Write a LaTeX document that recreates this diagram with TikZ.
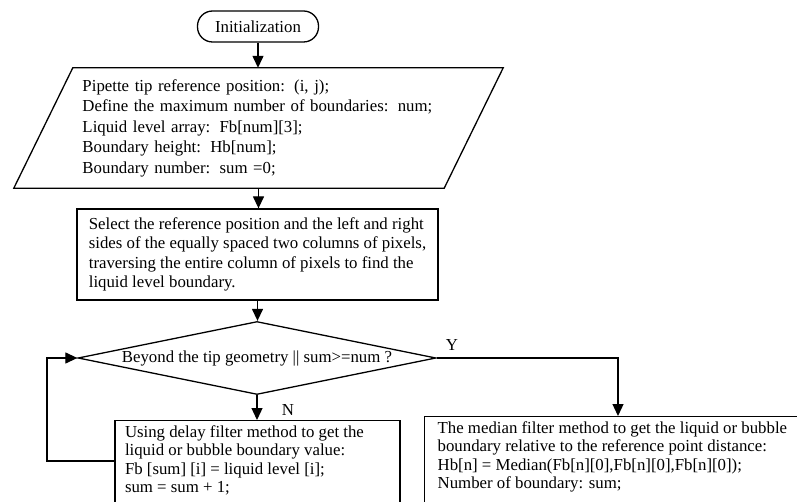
\documentclass[tikz,border=0pt]{standalone}
\usepackage{fontspec}
\setmainfont{Liberation Serif}
\usetikzlibrary{shapes.geometric,arrows.meta,calc}
\newcommand{\fcol}{:\hspace{0.55em}}
\begin{document}
\begin{tikzpicture}[x=1bp,y=1bp,
  every node/.style={font=\fontsize{16.8bp}{19.5bp}\selectfont, text=black},
  shp/.style={draw=black, line width=1.3bp},
  ln/.style={line width=1.3bp, draw=black},
  arr/.style={ln, -{Triangle[length=12bp,width=11bp]}}]
\clip (0,0) rectangle (797,-502);
\fill[white] (0,0) rectangle (797,-502);
% terminal
\node[shp, rounded corners=15bp, minimum width=121bp, minimum height=31bp, inner sep=0pt] (init) at (258,-26.5) {Initialization};
% input parallelogram
\node[minimum width=430bp, minimum height=120bp, inner sep=0pt, align=left, text width=352bp,
      font=\fontsize{16.8bp}{20.5bp}\selectfont] (param) at (258.5,-128)
  {Pipette tip reference position\fcol(i, j);\\
   Define the maximum number of boundaries\fcol num;\\
   Liquid level array\fcol Fb[num][3];\\
   Boundary height\fcol Hb[num];\\
   Boundary number\fcol sum =0;};
\draw[ln] ($(param.north west)+(29.5,0)$) -- ($(param.north east)+(29.5,0)$)
  -- ($(param.south east)+(-29.5,0)$) -- ($(param.south west)+(-29.5,0)$) -- cycle;
% process box
\node[shp, minimum width=361bp, minimum height=91bp, inner sep=0pt, align=left,
      font=\fontsize{16.8bp}{19.3bp}\selectfont] (sel) at (257.5,-254.5)
  {Select the reference position and the left and right\\
   sides of the equally spaced two columns of pixels,\\
   traversing the entire column of pixels to find the\\
   liquid level boundary.};
% decision
\node[shp, diamond, aspect=4.9, minimum width=358bp, minimum height=73bp, inner sep=0pt,
      text height=11bp, text depth=3bp] (dec) at (257,-358)
  {Beyond the tip geometry || sum>=num ?};
% loop box
\node[shp, anchor=north, minimum width=285bp, inner xsep=10bp, inner ysep=5bp] (loopbox) at (257.5,-420)
  {\parbox[t][85bp][t]{265bp}{\raggedright\fontsize{16.8bp}{18.3bp}\selectfont
   Using delay filter method to get the\\
   liquid or bubble boundary value:\\
   Fb [sum] [i] = liquid level [i];\\
   sum = sum + 1;}};
% median box
\node[shp, anchor=north west, minimum width=426bp, inner xsep=13bp, inner ysep=5bp] (medbox) at (424,-416)
  {\parbox[t][85bp][t]{400bp}{\raggedright\fontsize{16.8bp}{18.3bp}\selectfont
   The median filter method to get the liquid or bubble\\
   boundary relative to the reference point distance:\\
   Hb[n] = Median(Fb[n][0],Fb[n][0],Fb[n][0]);\\
   Number of boundary: sum;}};
% labels
\node (ylab) at (452,-345) {Y};
\node (nlab) at (288,-410) {N};
% connectors
\draw[arr] (init.south) -- (init.south |- param.north);
\draw[arr] (param.south) -- (param.south |- sel.north);
\draw[arr] (sel.south) -- (sel.south |- dec.north);
\draw[arr] (dec.south) -- (dec.south |- loopbox.north);
\coordinate (loopturn) at (47,-358);
\draw[arr] ($(loopbox.north west)+(0,-41)$) -| (loopturn) -- (dec.west);
\coordinate (yturn) at (618,-358);
\draw[arr] (dec.east) -- (yturn) -- (yturn |- medbox.north);
\end{tikzpicture}
\end{document}
